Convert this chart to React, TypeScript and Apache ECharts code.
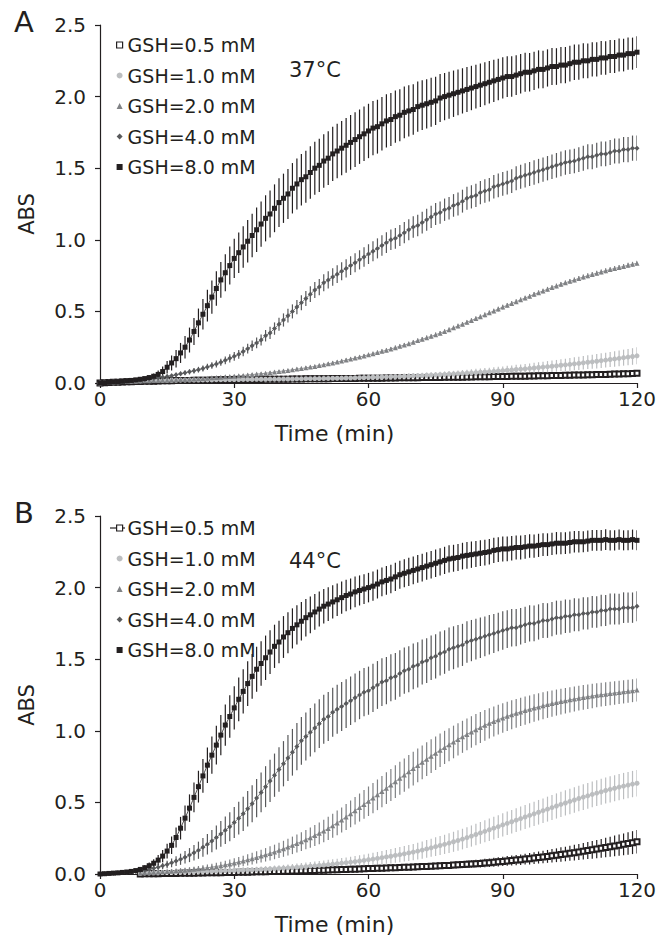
import React, { useEffect, useRef } from "react";
import * as echarts from "echarts";

// ---------------- data ----------------
const TIME_MIN: number[] = Array.from({ length: 121 }, (_, i) => i); // sampled every minute, 0..120
const X_TICKS = [0, 30, 60, 90, 120];
const Y_TICKS = [0, 0.5, 1.0, 1.5, 2.0, 2.5];
const NAMES = ["GSH=0.5 mM", "GSH=1.0 mM", "GSH=2.0 mM", "GSH=4.0 mM", "GSH=8.0 mM"];
const N = null;

// ---- Panel A, 37 °C : mean ABS ----
const A_05 = [
  0, 0.002, 0.004, 0.005, 0.006, 0.007, 0.008, 0.009, 0.01, 0.011, 0.012,
  0.013, 0.013, 0.014, 0.015, 0.015, 0.016, 0.017, 0.017, 0.018, 0.018,
  0.019, 0.019, 0.02, 0.02, 0.021, 0.021, 0.022, 0.022, 0.023, 0.023,
  0.024, 0.024, 0.024, 0.025, 0.025, 0.025, 0.026, 0.026, 0.026, 0.027,
  0.027, 0.027, 0.028, 0.028, 0.028, 0.029, 0.029, 0.029, 0.03, 0.03,
  0.03, 0.031, 0.031, 0.031, 0.032, 0.032, 0.032, 0.033, 0.033, 0.033,
  0.034, 0.034, 0.034, 0.035, 0.035, 0.035, 0.036, 0.036, 0.036, 0.037,
  0.037, 0.038, 0.038, 0.038, 0.039, 0.039, 0.04, 0.04, 0.04, 0.041,
  0.041, 0.042, 0.042, 0.043, 0.043, 0.044, 0.044, 0.045, 0.045, 0.046,
  0.046, 0.047, 0.047, 0.048, 0.048, 0.049, 0.049, 0.05, 0.051, 0.051,
  0.052, 0.052, 0.053, 0.054, 0.054, 0.055, 0.056, 0.056, 0.057, 0.058,
  0.059, 0.059, 0.06, 0.061, 0.062, 0.063, 0.064, 0.065, 0.066, 0.068,
];
const A_10 = [
  0, 0.003, 0.005, 0.007, 0.009, 0.011, 0.012, 0.013, 0.014, 0.015, 0.016,
  0.016, 0.017, 0.017, 0.018, 0.018, 0.019, 0.019, 0.02, 0.02, 0.021,
  0.021, 0.021, 0.022, 0.022, 0.022, 0.023, 0.023, 0.023, 0.024, 0.024,
  0.024, 0.025, 0.025, 0.025, 0.026, 0.026, 0.026, 0.027, 0.027, 0.027,
  0.028, 0.028, 0.028, 0.029, 0.029, 0.03, 0.03, 0.031, 0.031, 0.032,
  0.032, 0.033, 0.033, 0.034, 0.035, 0.035, 0.036, 0.037, 0.038, 0.039,
  0.04, 0.041, 0.042, 0.043, 0.044, 0.045, 0.046, 0.047, 0.048, 0.05,
  0.051, 0.052, 0.054, 0.055, 0.057, 0.058, 0.06, 0.062, 0.063, 0.065,
  0.067, 0.069, 0.071, 0.073, 0.075, 0.077, 0.079, 0.081, 0.084, 0.086,
  0.089, 0.091, 0.094, 0.097, 0.099, 0.102, 0.105, 0.108, 0.111, 0.114,
  0.117, 0.12, 0.124, 0.127, 0.13, 0.134, 0.137, 0.141, 0.145, 0.148,
  0.152, 0.156, 0.16, 0.164, 0.168, 0.172, 0.177, 0.181, 0.185, 0.19,
];
const A_20 = [
  0, 0.003, 0.005, 0.007, 0.008, 0.01, 0.011, 0.012, 0.013, 0.014, 0.015,
  0.016, 0.017, 0.018, 0.019, 0.02, 0.021, 0.022, 0.024, 0.025, 0.026,
  0.028, 0.03, 0.032, 0.034, 0.036, 0.038, 0.04, 0.043, 0.045, 0.048,
  0.05, 0.053, 0.056, 0.059, 0.062, 0.065, 0.068, 0.072, 0.076, 0.08,
  0.084, 0.088, 0.092, 0.097, 0.101, 0.106, 0.111, 0.116, 0.122, 0.128,
  0.134, 0.14, 0.146, 0.153, 0.16, 0.167, 0.174, 0.181, 0.189, 0.197,
  0.205, 0.213, 0.221, 0.229, 0.238, 0.247, 0.256, 0.265, 0.274, 0.285,
  0.296, 0.306, 0.316, 0.326, 0.337, 0.348, 0.36, 0.372, 0.385, 0.398,
  0.411, 0.424, 0.437, 0.45, 0.463, 0.476, 0.49, 0.503, 0.516, 0.53,
  0.543, 0.556, 0.568, 0.581, 0.594, 0.606, 0.619, 0.631, 0.643, 0.655,
  0.667, 0.678, 0.689, 0.7, 0.71, 0.72, 0.73, 0.74, 0.749, 0.758,
  0.767, 0.776, 0.784, 0.792, 0.8, 0.807, 0.814, 0.822, 0.829, 0.836,
];
const A_40 = [
  0, 0.002, 0.004, 0.006, 0.008, 0.01, 0.013, 0.016, 0.019, 0.022, 0.025,
  0.029, 0.033, 0.037, 0.041, 0.046, 0.051, 0.057, 0.064, 0.071, 0.078,
  0.085, 0.093, 0.102, 0.112, 0.122, 0.133, 0.145, 0.158, 0.172, 0.186,
  0.2, 0.22, 0.24, 0.26, 0.28, 0.3, 0.33, 0.35, 0.38, 0.41,
  0.44, 0.47, 0.5, 0.53, 0.56, 0.59, 0.62, 0.65, 0.67, 0.7,
  0.72, 0.74, 0.76, 0.78, 0.8, 0.82, 0.84, 0.86, 0.88, 0.9,
  0.92, 0.94, 0.96, 0.98, 1.0, 1.01, 1.03, 1.05, 1.07, 1.09,
  1.1, 1.12, 1.14, 1.16, 1.18, 1.19, 1.21, 1.22, 1.24, 1.25,
  1.27, 1.29, 1.3, 1.31, 1.33, 1.34, 1.35, 1.37, 1.38, 1.39,
  1.4, 1.41, 1.43, 1.44, 1.45, 1.46, 1.47, 1.48, 1.49, 1.5,
  1.51, 1.52, 1.53, 1.54, 1.545, 1.55, 1.56, 1.57, 1.58, 1.58,
  1.59, 1.6, 1.6, 1.61, 1.62, 1.62, 1.63, 1.63, 1.64, 1.64,
];
const A_80 = [
  0, 0.002, 0.005, 0.008, 0.01, 0.012, 0.015, 0.018, 0.022, 0.026, 0.031,
  0.038, 0.047, 0.06, 0.08, 0.11, 0.14, 0.17, 0.21, 0.25, 0.3,
  0.36, 0.42, 0.48, 0.54, 0.6, 0.66, 0.72, 0.77, 0.82, 0.87,
  0.91, 0.95, 0.99, 1.03, 1.07, 1.11, 1.15, 1.18, 1.22, 1.26,
  1.29, 1.32, 1.36, 1.39, 1.42, 1.44, 1.47, 1.5, 1.52, 1.55,
  1.57, 1.6, 1.62, 1.64, 1.66, 1.68, 1.7, 1.72, 1.74, 1.76,
  1.78, 1.79, 1.81, 1.83, 1.84, 1.86, 1.87, 1.89, 1.9, 1.91,
  1.93, 1.94, 1.95, 1.96, 1.97, 1.99, 2.0, 2.01, 2.02, 2.03,
  2.04, 2.05, 2.06, 2.07, 2.08, 2.09, 2.1, 2.11, 2.12, 2.13,
  2.14, 2.14, 2.15, 2.16, 2.17, 2.17, 2.18, 2.19, 2.19, 2.2,
  2.21, 2.21, 2.22, 2.22, 2.23, 2.24, 2.24, 2.25, 2.25, 2.26,
  2.26, 2.27, 2.27, 2.28, 2.28, 2.29, 2.29, 2.3, 2.3, 2.31,
];

// ---- Panel A : error (± SD) ----
const A_05_SD = [
  0.002, 0.002, 0.003, 0.003, 0.003, 0.004, 0.004, 0.004, 0.005, 0.005, 0.005,
  0.006, 0.006, 0.006, 0.006, 0.006, 0.006, 0.006, 0.006, 0.006, 0.006,
  0.006, 0.006, 0.006, 0.006, 0.006, 0.007, 0.007, 0.007, 0.007, 0.007,
  0.007, 0.007, 0.007, 0.007, 0.007, 0.007, 0.007, 0.007, 0.007, 0.007,
  0.007, 0.007, 0.007, 0.007, 0.007, 0.008, 0.008, 0.008, 0.008, 0.008,
  0.008, 0.008, 0.008, 0.008, 0.008, 0.008, 0.008, 0.008, 0.008, 0.008,
  0.008, 0.008, 0.008, 0.008, 0.008, 0.009, 0.009, 0.009, 0.009, 0.009,
  0.009, 0.009, 0.009, 0.009, 0.009, 0.009, 0.009, 0.009, 0.009, 0.009,
  0.009, 0.009, 0.009, 0.009, 0.009, 0.01, 0.01, 0.01, 0.01, 0.01,
  0.01, 0.01, 0.01, 0.01, 0.01, 0.01, 0.01, 0.01, 0.01, 0.01,
  0.01, 0.01, 0.01, 0.01, 0.01, 0.011, 0.011, 0.011, 0.011, 0.011,
  0.011, 0.011, 0.011, 0.011, 0.011, 0.012, 0.012, 0.012, 0.012, 0.012,
];
const A_10_SD = [
  0.003, 0.005, 0.007, 0.008, 0.009, 0.01, 0.01, 0.011, 0.011, 0.011, 0.012,
  0.012, 0.012, 0.012, 0.012, 0.012, 0.012, 0.012, 0.012, 0.012, 0.012,
  0.012, 0.012, 0.012, 0.012, 0.012, 0.013, 0.013, 0.013, 0.013, 0.013,
  0.013, 0.013, 0.013, 0.013, 0.013, 0.013, 0.013, 0.013, 0.013, 0.013,
  0.013, 0.013, 0.013, 0.013, 0.013, 0.014, 0.014, 0.014, 0.014, 0.014,
  0.014, 0.014, 0.014, 0.014, 0.014, 0.015, 0.015, 0.015, 0.015, 0.015,
  0.015, 0.015, 0.016, 0.016, 0.016, 0.017, 0.017, 0.017, 0.018, 0.018,
  0.018, 0.019, 0.019, 0.02, 0.02, 0.021, 0.021, 0.022, 0.022, 0.023,
  0.024, 0.024, 0.025, 0.026, 0.026, 0.027, 0.028, 0.029, 0.029, 0.03,
  0.031, 0.032, 0.033, 0.033, 0.034, 0.035, 0.036, 0.037, 0.038, 0.039,
  0.04, 0.041, 0.042, 0.043, 0.044, 0.045, 0.046, 0.047, 0.048, 0.049,
  0.05, 0.051, 0.052, 0.053, 0.054, 0.055, 0.056, 0.057, 0.058, 0.059,
];
const A_20_SD = [
  0.002, 0.002, 0.003, 0.003, 0.003, 0.004, 0.004, 0.004, 0.005, 0.005, 0.005,
  0.005, 0.006, 0.006, 0.006, 0.006, 0.007, 0.007, 0.007, 0.007, 0.007,
  0.008, 0.008, 0.008, 0.008, 0.008, 0.009, 0.009, 0.009, 0.009, 0.009,
  0.009, 0.01, 0.01, 0.01, 0.01, 0.01, 0.01, 0.011, 0.011, 0.011,
  0.011, 0.011, 0.011, 0.011, 0.012, 0.012, 0.012, 0.012, 0.012, 0.012,
  0.012, 0.013, 0.013, 0.013, 0.013, 0.013, 0.013, 0.013, 0.014, 0.014,
  0.014, 0.014, 0.014, 0.014, 0.014, 0.014, 0.014, 0.014, 0.014, 0.014,
  0.014, 0.015, 0.015, 0.015, 0.015, 0.015, 0.015, 0.015, 0.015, 0.015,
  0.015, 0.015, 0.015, 0.015, 0.015, 0.016, 0.016, 0.016, 0.016, 0.016,
  0.016, 0.016, 0.016, 0.016, 0.016, 0.016, 0.016, 0.016, 0.016, 0.016,
  0.016, 0.016, 0.016, 0.016, 0.016, 0.017, 0.017, 0.017, 0.017, 0.017,
  0.017, 0.017, 0.017, 0.017, 0.017, 0.017, 0.017, 0.017, 0.017, 0.017,
];
const A_40_SD = [
  0.002, 0.002, 0.003, 0.003, 0.004, 0.004, 0.005, 0.005, 0.006, 0.007, 0.008,
  0.009, 0.01, 0.011, 0.012, 0.013, 0.014, 0.015, 0.016, 0.017, 0.018,
  0.019, 0.02, 0.021, 0.022, 0.023, 0.024, 0.025, 0.027, 0.028, 0.03,
  0.031, 0.033, 0.034, 0.036, 0.037, 0.039, 0.04, 0.042, 0.043, 0.045,
  0.046, 0.048, 0.049, 0.05, 0.052, 0.053, 0.055, 0.056, 0.057, 0.059,
  0.06, 0.061, 0.062, 0.063, 0.064, 0.065, 0.066, 0.067, 0.068, 0.069,
  0.07, 0.07, 0.071, 0.072, 0.072, 0.073, 0.073, 0.074, 0.074, 0.075,
  0.075, 0.076, 0.076, 0.077, 0.077, 0.078, 0.078, 0.079, 0.079, 0.08,
  0.08, 0.08, 0.081, 0.081, 0.081, 0.082, 0.082, 0.082, 0.083, 0.083,
  0.083, 0.083, 0.084, 0.084, 0.084, 0.084, 0.085, 0.085, 0.085, 0.085,
  0.085, 0.086, 0.086, 0.086, 0.086, 0.086, 0.086, 0.087, 0.087, 0.087,
  0.087, 0.087, 0.087, 0.087, 0.087, 0.088, 0.088, 0.088, 0.088, 0.088,
];
const A_80_SD = [
  0.003, 0.003, 0.004, 0.004, 0.005, 0.005, 0.006, 0.007, 0.008, 0.009, 0.01,
  0.014, 0.02, 0.027, 0.035, 0.043, 0.052, 0.061, 0.07, 0.079, 0.087,
  0.094, 0.1, 0.106, 0.111, 0.116, 0.12, 0.125, 0.129, 0.133, 0.137,
  0.141, 0.145, 0.148, 0.152, 0.155, 0.158, 0.161, 0.164, 0.167, 0.17,
  0.172, 0.174, 0.176, 0.178, 0.18, 0.182, 0.183, 0.185, 0.186, 0.187,
  0.188, 0.189, 0.19, 0.19, 0.191, 0.191, 0.191, 0.19, 0.19, 0.19,
  0.189, 0.188, 0.187, 0.186, 0.185, 0.183, 0.182, 0.18, 0.179, 0.177,
  0.176, 0.174, 0.172, 0.171, 0.169, 0.167, 0.165, 0.164, 0.162, 0.16,
  0.158, 0.157, 0.155, 0.153, 0.152, 0.15, 0.148, 0.147, 0.145, 0.144,
  0.142, 0.141, 0.139, 0.138, 0.137, 0.135, 0.134, 0.133, 0.131, 0.13,
  0.129, 0.128, 0.127, 0.126, 0.125, 0.124, 0.123, 0.122, 0.121, 0.12,
  0.119, 0.118, 0.117, 0.116, 0.116, 0.115, 0.114, 0.113, 0.112, 0.111,
];

// ---- Panel B, 44 °C : mean ABS ----
const B_05 = [
  N, N, N, N, N, N, N, N, N, 0, 0.001,
  0.001, 0.002, 0.002, 0.003, 0.003, 0.004, 0.004, 0.005, 0.005, 0.006,
  0.006, 0.007, 0.007, 0.008, 0.008, 0.009, 0.009, 0.01, 0.011, 0.011,
  0.012, 0.013, 0.013, 0.014, 0.015, 0.015, 0.016, 0.017, 0.017, 0.018,
  0.019, 0.02, 0.021, 0.021, 0.022, 0.023, 0.024, 0.025, 0.026, 0.027,
  0.028, 0.029, 0.03, 0.031, 0.032, 0.033, 0.034, 0.035, 0.036, 0.038,
  0.039, 0.04, 0.041, 0.042, 0.043, 0.044, 0.045, 0.047, 0.048, 0.049,
  0.05, 0.052, 0.053, 0.054, 0.056, 0.057, 0.059, 0.06, 0.062, 0.064,
  0.066, 0.068, 0.07, 0.072, 0.074, 0.077, 0.079, 0.082, 0.085, 0.088,
  0.091, 0.094, 0.097, 0.1, 0.104, 0.107, 0.111, 0.115, 0.119, 0.123,
  0.127, 0.131, 0.136, 0.14, 0.145, 0.149, 0.154, 0.159, 0.164, 0.169,
  0.174, 0.179, 0.185, 0.19, 0.196, 0.201, 0.207, 0.213, 0.219, 0.226,
];
const B_10 = [
  N, N, N, N, N, N, N, N, N, 0.005, 0.008,
  0.009, 0.01, 0.011, 0.012, 0.013, 0.014, 0.014, 0.015, 0.016, 0.017,
  0.017, 0.018, 0.019, 0.019, 0.02, 0.021, 0.022, 0.023, 0.024, 0.025,
  0.026, 0.027, 0.028, 0.029, 0.031, 0.032, 0.034, 0.035, 0.037, 0.039,
  0.041, 0.043, 0.045, 0.047, 0.049, 0.052, 0.055, 0.057, 0.06, 0.063,
  0.066, 0.069, 0.072, 0.076, 0.079, 0.083, 0.087, 0.091, 0.095, 0.1,
  0.104, 0.109, 0.114, 0.119, 0.124, 0.13, 0.135, 0.141, 0.147, 0.153,
  0.16, 0.167, 0.175, 0.183, 0.191, 0.199, 0.207, 0.216, 0.225, 0.234,
  0.244, 0.254, 0.265, 0.276, 0.287, 0.298, 0.309, 0.32, 0.331, 0.343,
  0.354, 0.365, 0.376, 0.387, 0.398, 0.409, 0.42, 0.431, 0.442, 0.453,
  0.464, 0.475, 0.486, 0.496, 0.507, 0.517, 0.527, 0.537, 0.546, 0.556,
  0.565, 0.574, 0.583, 0.591, 0.599, 0.607, 0.614, 0.621, 0.628, 0.634,
];
const B_20 = [
  N, N, N, N, N, N, N, N, N, 0.006, 0.01,
  0.011, 0.013, 0.014, 0.016, 0.018, 0.02, 0.022, 0.025, 0.027, 0.03,
  0.033, 0.036, 0.04, 0.044, 0.048, 0.053, 0.058, 0.064, 0.07, 0.077,
  0.084, 0.091, 0.099, 0.107, 0.116, 0.125, 0.134, 0.144, 0.154, 0.165,
  0.176, 0.188, 0.2, 0.213, 0.226, 0.24, 0.254, 0.269, 0.284, 0.3,
  0.318, 0.337, 0.357, 0.377, 0.398, 0.42, 0.442, 0.464, 0.486, 0.508,
  0.53, 0.553, 0.576, 0.599, 0.622, 0.645, 0.668, 0.691, 0.714, 0.736,
  0.758, 0.78, 0.802, 0.823, 0.844, 0.864, 0.884, 0.903, 0.922, 0.94,
  0.958, 0.975, 0.992, 1.008, 1.023, 1.038, 1.052, 1.065, 1.078, 1.09,
  1.101, 1.112, 1.122, 1.132, 1.141, 1.15, 1.159, 1.167, 1.175, 1.183,
  1.19, 1.197, 1.204, 1.21, 1.216, 1.222, 1.228, 1.233, 1.238, 1.243,
  1.248, 1.252, 1.256, 1.26, 1.264, 1.268, 1.272, 1.276, 1.28, 1.285,
];
const B_40 = [
  0, 0.002, 0.004, 0.006, 0.008, 0.01, 0.012, 0.015, 0.018, 0.022, 0.027,
  0.033, 0.04, 0.048, 0.057, 0.067, 0.078, 0.09, 0.103, 0.117, 0.132,
  0.148, 0.166, 0.186, 0.208, 0.23, 0.255, 0.28, 0.305, 0.33, 0.36,
  0.39, 0.42, 0.455, 0.49, 0.53, 0.57, 0.61, 0.65, 0.69, 0.73,
  0.77, 0.81, 0.85, 0.89, 0.93, 0.96, 0.99, 1.02, 1.05, 1.08,
  1.1, 1.13, 1.15, 1.17, 1.19, 1.21, 1.23, 1.25, 1.27, 1.28,
  1.3, 1.32, 1.34, 1.35, 1.37, 1.38, 1.4, 1.42, 1.43, 1.45,
  1.46, 1.48, 1.49, 1.51, 1.52, 1.54, 1.55, 1.57, 1.58, 1.59,
  1.6, 1.62, 1.63, 1.64, 1.65, 1.66, 1.67, 1.68, 1.69, 1.7,
  1.71, 1.72, 1.72, 1.73, 1.74, 1.75, 1.75, 1.76, 1.77, 1.77,
  1.78, 1.79, 1.79, 1.8, 1.8, 1.81, 1.81, 1.82, 1.82, 1.83,
  1.83, 1.84, 1.84, 1.85, 1.85, 1.85, 1.86, 1.86, 1.86, 1.87,
];
const B_80 = [
  0, 0.002, 0.004, 0.006, 0.008, 0.011, 0.014, 0.018, 0.024, 0.032, 0.044,
  0.058, 0.075, 0.097, 0.125, 0.16, 0.2, 0.255, 0.32, 0.39, 0.46,
  0.535, 0.61, 0.685, 0.76, 0.83, 0.9, 0.97, 1.04, 1.1, 1.16,
  1.22, 1.275, 1.33, 1.38, 1.43, 1.47, 1.51, 1.55, 1.59, 1.62,
  1.655, 1.685, 1.715, 1.74, 1.765, 1.79, 1.81, 1.83, 1.85, 1.87,
  1.885, 1.9, 1.915, 1.93, 1.945, 1.955, 1.97, 1.98, 1.99, 2.0,
  2.01, 2.025, 2.04, 2.05, 2.06, 2.075, 2.09, 2.1, 2.11, 2.12,
  2.13, 2.14, 2.15, 2.16, 2.17, 2.18, 2.19, 2.2, 2.205, 2.21,
  2.22, 2.225, 2.23, 2.235, 2.24, 2.245, 2.25, 2.26, 2.265, 2.27,
  2.27, 2.275, 2.28, 2.28, 2.285, 2.29, 2.29, 2.295, 2.3, 2.3,
  2.305, 2.31, 2.31, 2.31, 2.315, 2.32, 2.32, 2.32, 2.325, 2.33,
  2.33, 2.33, 2.335, 2.33, 2.33, 2.335, 2.33, 2.33, 2.335, 2.33,
];

// ---- Panel B : error (± SD) ----
const B_05_SD = [
  0.003, 0.003, 0.003, 0.003, 0.003, 0.003, 0.003, 0.003, 0.003, 0.003, 0.003,
  0.004, 0.004, 0.004, 0.004, 0.005, 0.005, 0.005, 0.005, 0.005, 0.006,
  0.006, 0.006, 0.006, 0.006, 0.007, 0.007, 0.007, 0.007, 0.007, 0.008,
  0.008, 0.008, 0.008, 0.008, 0.009, 0.009, 0.009, 0.009, 0.009, 0.01,
  0.01, 0.01, 0.01, 0.01, 0.011, 0.011, 0.011, 0.011, 0.011, 0.012,
  0.012, 0.012, 0.012, 0.013, 0.013, 0.013, 0.013, 0.014, 0.014, 0.014,
  0.015, 0.015, 0.015, 0.016, 0.016, 0.016, 0.017, 0.017, 0.018, 0.018,
  0.019, 0.019, 0.02, 0.02, 0.021, 0.021, 0.022, 0.023, 0.023, 0.024,
  0.025, 0.026, 0.026, 0.027, 0.028, 0.029, 0.03, 0.031, 0.032, 0.033,
  0.034, 0.035, 0.036, 0.037, 0.038, 0.04, 0.041, 0.042, 0.044, 0.045,
  0.047, 0.048, 0.05, 0.051, 0.053, 0.055, 0.056, 0.058, 0.06, 0.062,
  0.064, 0.066, 0.068, 0.07, 0.072, 0.074, 0.076, 0.078, 0.08, 0.082,
];
const B_10_SD = [
  0.005, 0.005, 0.005, 0.005, 0.005, 0.005, 0.005, 0.005, 0.005, 0.006, 0.007,
  0.008, 0.008, 0.009, 0.009, 0.01, 0.01, 0.011, 0.011, 0.012, 0.012,
  0.013, 0.013, 0.014, 0.014, 0.015, 0.015, 0.016, 0.016, 0.017, 0.017,
  0.018, 0.018, 0.019, 0.019, 0.02, 0.02, 0.021, 0.021, 0.022, 0.022,
  0.023, 0.024, 0.025, 0.026, 0.027, 0.028, 0.029, 0.03, 0.031, 0.032,
  0.033, 0.034, 0.035, 0.036, 0.037, 0.038, 0.039, 0.04, 0.041, 0.042,
  0.044, 0.045, 0.047, 0.048, 0.05, 0.051, 0.053, 0.054, 0.056, 0.057,
  0.059, 0.06, 0.062, 0.063, 0.065, 0.066, 0.067, 0.069, 0.07, 0.071,
  0.072, 0.073, 0.074, 0.075, 0.076, 0.077, 0.078, 0.079, 0.08, 0.081,
  0.082, 0.082, 0.083, 0.084, 0.084, 0.085, 0.085, 0.086, 0.086, 0.087,
  0.087, 0.088, 0.088, 0.088, 0.089, 0.089, 0.089, 0.09, 0.09, 0.09,
  0.09, 0.091, 0.091, 0.091, 0.091, 0.092, 0.092, 0.092, 0.092, 0.092,
];
const B_20_SD = [
  0.005, 0.005, 0.005, 0.005, 0.005, 0.005, 0.005, 0.005, 0.005, 0.006, 0.007,
  0.008, 0.009, 0.01, 0.011, 0.012, 0.013, 0.014, 0.015, 0.016, 0.017,
  0.018, 0.02, 0.021, 0.023, 0.024, 0.026, 0.027, 0.029, 0.031, 0.033,
  0.035, 0.037, 0.039, 0.041, 0.043, 0.045, 0.047, 0.049, 0.051, 0.053,
  0.056, 0.058, 0.061, 0.063, 0.066, 0.068, 0.071, 0.073, 0.076, 0.078,
  0.081, 0.083, 0.086, 0.088, 0.091, 0.093, 0.096, 0.098, 0.101, 0.103,
  0.105, 0.107, 0.109, 0.111, 0.112, 0.114, 0.115, 0.116, 0.117, 0.118,
  0.118, 0.118, 0.118, 0.118, 0.117, 0.117, 0.116, 0.115, 0.114, 0.113,
  0.112, 0.111, 0.11, 0.109, 0.108, 0.107, 0.106, 0.105, 0.104, 0.103,
  0.102, 0.101, 0.1, 0.099, 0.098, 0.097, 0.096, 0.095, 0.094, 0.093,
  0.092, 0.091, 0.09, 0.089, 0.088, 0.088, 0.087, 0.086, 0.085, 0.085,
  0.084, 0.083, 0.083, 0.082, 0.082, 0.081, 0.081, 0.08, 0.08, 0.08,
];
const B_40_SD = [
  0.002, 0.002, 0.003, 0.003, 0.004, 0.005, 0.006, 0.007, 0.008, 0.009, 0.011,
  0.013, 0.016, 0.019, 0.022, 0.026, 0.03, 0.034, 0.039, 0.044, 0.049,
  0.054, 0.06, 0.066, 0.072, 0.078, 0.084, 0.09, 0.096, 0.102, 0.108,
  0.114, 0.119, 0.124, 0.129, 0.134, 0.139, 0.143, 0.147, 0.151, 0.155,
  0.158, 0.161, 0.163, 0.165, 0.167, 0.168, 0.169, 0.17, 0.17, 0.171,
  0.171, 0.171, 0.171, 0.171, 0.17, 0.17, 0.17, 0.169, 0.169, 0.168,
  0.168, 0.167, 0.166, 0.165, 0.164, 0.163, 0.162, 0.161, 0.16, 0.159,
  0.158, 0.157, 0.156, 0.155, 0.154, 0.153, 0.152, 0.151, 0.15, 0.148,
  0.147, 0.145, 0.144, 0.142, 0.141, 0.139, 0.138, 0.136, 0.135, 0.134,
  0.132, 0.131, 0.13, 0.128, 0.127, 0.126, 0.125, 0.123, 0.122, 0.121,
  0.12, 0.119, 0.118, 0.117, 0.116, 0.115, 0.114, 0.113, 0.112, 0.111,
  0.11, 0.11, 0.109, 0.108, 0.108, 0.107, 0.107, 0.106, 0.106, 0.105,
];
const B_80_SD = [
  0.003, 0.003, 0.004, 0.004, 0.005, 0.005, 0.006, 0.008, 0.01, 0.013, 0.017,
  0.022, 0.028, 0.035, 0.043, 0.052, 0.061, 0.07, 0.079, 0.088, 0.096,
  0.104, 0.111, 0.118, 0.124, 0.13, 0.135, 0.14, 0.144, 0.148, 0.151,
  0.153, 0.155, 0.156, 0.157, 0.157, 0.156, 0.155, 0.153, 0.151, 0.149,
  0.146, 0.143, 0.14, 0.137, 0.134, 0.131, 0.128, 0.125, 0.122, 0.12,
  0.118, 0.116, 0.114, 0.112, 0.11, 0.108, 0.107, 0.105, 0.104, 0.103,
  0.102, 0.101, 0.1, 0.1, 0.099, 0.099, 0.098, 0.098, 0.098, 0.097,
  0.097, 0.097, 0.096, 0.096, 0.096, 0.095, 0.095, 0.095, 0.094, 0.094,
  0.093, 0.093, 0.092, 0.091, 0.09, 0.09, 0.089, 0.088, 0.087, 0.087,
  0.086, 0.085, 0.084, 0.084, 0.083, 0.082, 0.081, 0.081, 0.08, 0.079,
  0.078, 0.078, 0.077, 0.076, 0.076, 0.075, 0.075, 0.074, 0.074, 0.073,
  0.073, 0.072, 0.072, 0.071, 0.071, 0.071, 0.07, 0.07, 0.07, 0.07,
];

const PANELS = [
  { letter: "A", temp: "37\u00B0C", means: [A_05, A_10, A_20, A_40, A_80], sds: [A_05_SD, A_10_SD, A_20_SD, A_40_SD, A_80_SD] },
  { letter: "B", temp: "44\u00B0C", means: [B_05, B_10, B_20, B_40, B_80], sds: [B_05_SD, B_10_SD, B_20_SD, B_40_SD, B_80_SD] },
];

// ---------------- styling ----------------
const FONT = '"DejaVu Sans", Verdana, sans-serif';
const INK = "#231f20";
const MARKS = [
  { symbol: "emptyRect", color: INK, bar: INK, size: 5, legendIcon: "rect", legendStyle: { color: "#ffffff", borderColor: INK, borderWidth: 1.2 } },
  { symbol: "circle", color: "#bcbec0", bar: "#bcbec0", size: 5, legendIcon: "circle", legendStyle: { color: "#bcbec0" } },
  { symbol: "triangle", color: "#808285", bar: "#808285", size: 5, legendIcon: "triangle", legendStyle: { color: "#808285" } },
  { symbol: "diamond", color: "#58595b", bar: "#58595b", size: 5, legendIcon: "diamond", legendStyle: { color: "#58595b" } },
  { symbol: "rect", color: INK, bar: INK, size: 5, legendIcon: "rect", legendStyle: { color: INK } },
];

const GRID_TOPS = [25, 516];
const GRID_H = 358;

function buildOption() {
  const series: any[] = [];
  PANELS.forEach((panel, p) => {
    panel.means.forEach((vals, k) => {
      const sd = panel.sds[k];
      const m = MARKS[k];
      series.push({
        type: "custom",
        name: NAMES[k] + " SD " + panel.letter,
        xAxisIndex: p,
        yAxisIndex: p,
        silent: true,
        clip: true,
        z: 2,
        encode: { x: 0, y: 1 },
        data: vals
          .map((v, i) => (v == null ? null : [TIME_MIN[i], v, sd[i]]))
          .filter((d) => d !== null),
        renderItem: (params: any, api: any) => {
          const x = api.value(0);
          const y = api.value(1);
          const e = api.value(2);
          const top = api.coord([x, y + e]);
          const bot = api.coord([x, y - e]);
          return {
            type: "line",
            shape: { x1: top[0], y1: top[1], x2: bot[0], y2: bot[1] },
            style: { stroke: m.bar, lineWidth: 1.2 },
          };
        },
      });
    });
    panel.means.forEach((vals, k) => {
      const m = MARKS[k];
      series.push({
        type: "line",
        name: NAMES[k],
        xAxisIndex: p,
        yAxisIndex: p,
        z: 3,
        symbol: m.symbol,
        symbolSize: m.size,
        showSymbol: true,
        showAllSymbol: true,
        clip: true,
        lineStyle: { color: m.color, width: 0.8 },
        itemStyle: { color: m.color, borderWidth: k === 0 ? 1.1 : 0 },
        emphasis: { disabled: true },
        data: vals
          .map((v, i) => (v == null ? null : [TIME_MIN[i], v]))
          .filter((d) => d !== null),
      });
    });
  });

  const axisCommon = {
    axisLine: { show: true, onZero: false, lineStyle: { color: INK, width: 1.2 } },
    axisTick: { show: true, length: 5, lineStyle: { color: INK, width: 1.2 } },
    splitLine: { show: false },
  };

  const legendTops = [35, 518];
  const legends = legendTops.map((top) => ({
    orient: "vertical",
    left: 116,
    top,
    padding: 0,
    itemWidth: 6,
    itemHeight: 6,
    itemGap: 10.5,
    selectedMode: false,
    textStyle: { fontSize: 19, fontFamily: FONT, color: INK, lineHeight: 20 },
    data: NAMES.map((name, k) => ({ name, icon: MARKS[k].legendIcon, itemStyle: MARKS[k].legendStyle })),
  }));

  const graphics: any[] = [];
  PANELS.forEach((panel, p) => {
    const top = GRID_TOPS[p];
    graphics.push({
      type: "text",
      x: 14,
      y: top - 3,
      style: { text: panel.letter, fontSize: 29, fontFamily: FONT, fill: INK, align: "left", verticalAlign: "middle" },
    });
    graphics.push({
      type: "text",
      x: 289,
      y: top + 45,
      style: { text: panel.temp, fontSize: 21, fontFamily: FONT, fill: INK, align: "left", verticalAlign: "middle" },
    });
    graphics.push({
      type: "text",
      x: 27,
      y: top + 189,
      rotation: Math.PI / 2,
      style: { text: "ABS", fontSize: 21, fontFamily: FONT, fill: INK, align: "center", verticalAlign: "middle" },
    });
    graphics.push({
      type: "text",
      x: 334.5,
      y: top + GRID_H + 50,
      style: { text: "Time (min)", fontSize: 22, fontFamily: FONT, fill: INK, align: "center", verticalAlign: "middle" },
    });
  });
  // line stub of the B legend's first entry (symbol with line)
  graphics.push({ type: "line", shape: { x1: 110, y1: 528, x2: 116, y2: 528 }, style: { stroke: INK, lineWidth: 1.2 } });
  graphics.push({ type: "line", shape: { x1: 122, y1: 528, x2: 125, y2: 528 }, style: { stroke: INK, lineWidth: 1.2 } });

  return {
    animation: false,
    backgroundColor: "#ffffff",
    textStyle: { fontFamily: FONT },
    grid: GRID_TOPS.map((top) => ({ left: 100, top, width: 537, height: GRID_H, containLabel: false })),
    xAxis: [0, 1].map((gi) => ({
      type: "value",
      gridIndex: gi,
      min: X_TICKS[0],
      max: X_TICKS[X_TICKS.length - 1],
      interval: X_TICKS[1] - X_TICKS[0],
      ...axisCommon,
      axisLabel: { fontSize: 20, color: INK, fontFamily: FONT, margin: 6 },
    })),
    yAxis: [0, 1].map((gi) => ({
      type: "value",
      gridIndex: gi,
      min: Y_TICKS[0],
      max: Y_TICKS[Y_TICKS.length - 1],
      interval: Y_TICKS[1] - Y_TICKS[0],
      ...axisCommon,
      axisLabel: { fontSize: 20, color: INK, fontFamily: FONT, margin: 14, formatter: (v: number) => v.toFixed(1) },
    })),
    legend: legends,
    graphic: graphics,
    series,
  };
}

export default function App() {
  const ref = useRef<HTMLDivElement | null>(null);
  useEffect(() => {
    document.body.style.margin = "0";
    if (!ref.current) return;
    const chart = echarts.init(ref.current, undefined, { renderer: "svg" });
    chart.setOption(buildOption() as any);
    return () => chart.dispose();
  }, []);
  return <div ref={ref} style={{ width: 669, height: 943, background: "#fff" }} />;
}
